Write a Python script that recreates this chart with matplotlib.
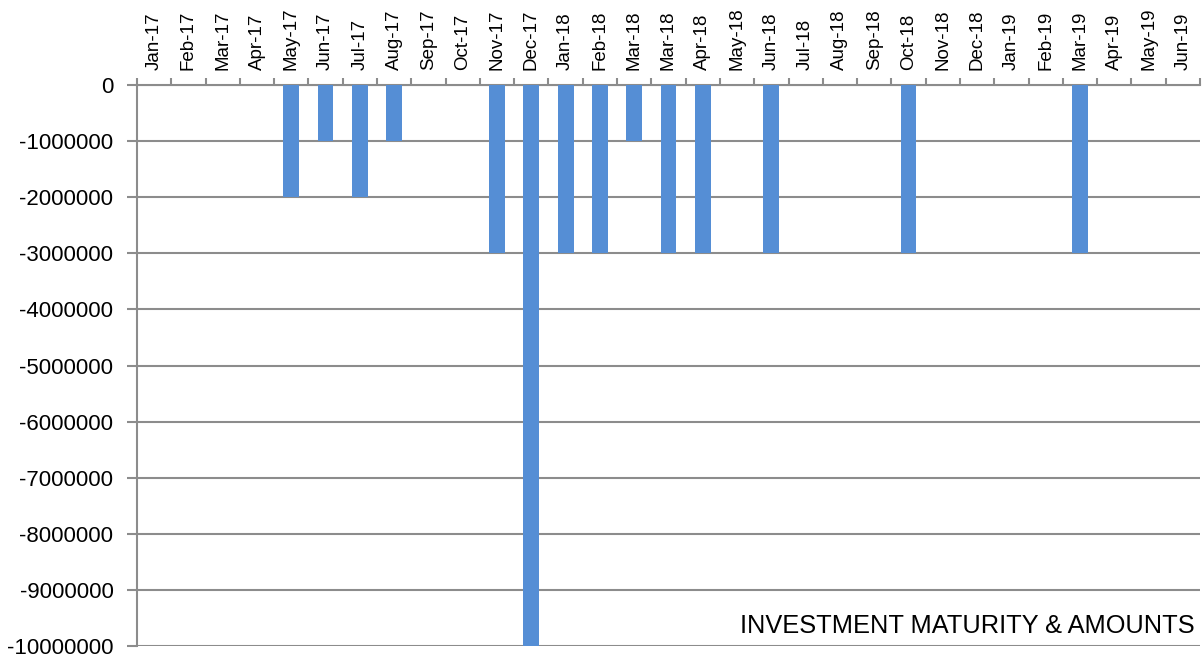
import matplotlib.pyplot as plt
import numpy as np

months = ['Jan-17', 'Feb-17', 'Mar-17', 'Apr-17', 'May-17', 'Jun-17', 'Jul-17', 'Aug-17',
          'Sep-17', 'Oct-17', 'Nov-17', 'Dec-17', 'Jan-18', 'Feb-18', 'Mar-18', 'Mar-18',
          'Apr-18', 'May-18', 'Jun-18', 'Jul-18', 'Aug-18', 'Sep-18', 'Oct-18', 'Nov-18',
          'Dec-18', 'Jan-19', 'Feb-19', 'Mar-19', 'Apr-19', 'May-19', 'Jun-19']
amounts = [0, 0, 0, 0, -2000000, -1000000, -2000000, -1000000,
           0, 0, -3000000, -10000000, -3000000, -3000000, -1000000, -3000000,
           -3000000, 0, -3000000, 0, 0, 0, -3000000, 0,
           0, 0, 0, -3000000, 0, 0, 0]
yticks = list(range(0, -10000001, -1000000))

plt.rcParams['font.family'] = ['Liberation Sans', 'DejaVu Sans']

fig = plt.figure(figsize=(12.03, 6.59), dpi=100)
ax = fig.add_axes([137 / 1203, 1 - 646 / 659, (1200 - 137) / 1203, (646 - 85) / 659])

x = np.arange(len(months))
ax.bar(x, amounts, width=0.46, color='#558ED5', linewidth=0, zorder=3)

ax.set_xlim(-0.5, len(months) - 0.5)
ax.set_ylim(-10000000, 0)
ax.set_yticks(yticks)
ax.set_yticklabels([str(v) for v in yticks], fontsize=16)
ax.yaxis.grid(True, color='#8C8C8C', linewidth=1.5, zorder=1)
ax.tick_params(axis='y', length=7, width=1.5, color='#8C8C8C', pad=10)

ax.xaxis.tick_top()
ax.set_xticks(x)
ax.set_xticklabels(months, rotation=90, fontsize=13.5)
ax.set_xticks(np.arange(-0.5, len(months), 1), minor=True)
ax.tick_params(axis='x', which='major', length=0, pad=11)
ax.tick_params(axis='x', which='minor', length=5, width=1.5, color='#8C8C8C', direction='out')

for side in ['right', 'bottom']:
    ax.spines[side].set_visible(False)
for side in ['left', 'top']:
    ax.spines[side].set_color('#8C8C8C')
    ax.spines[side].set_linewidth(1.5)

ax.text(0.995, 0.015, 'INVESTMENT MATURITY & AMOUNTS', transform=ax.transAxes,
        ha='right', va='bottom', fontsize=18.3)

fig.savefig('out.png', dpi=100)
